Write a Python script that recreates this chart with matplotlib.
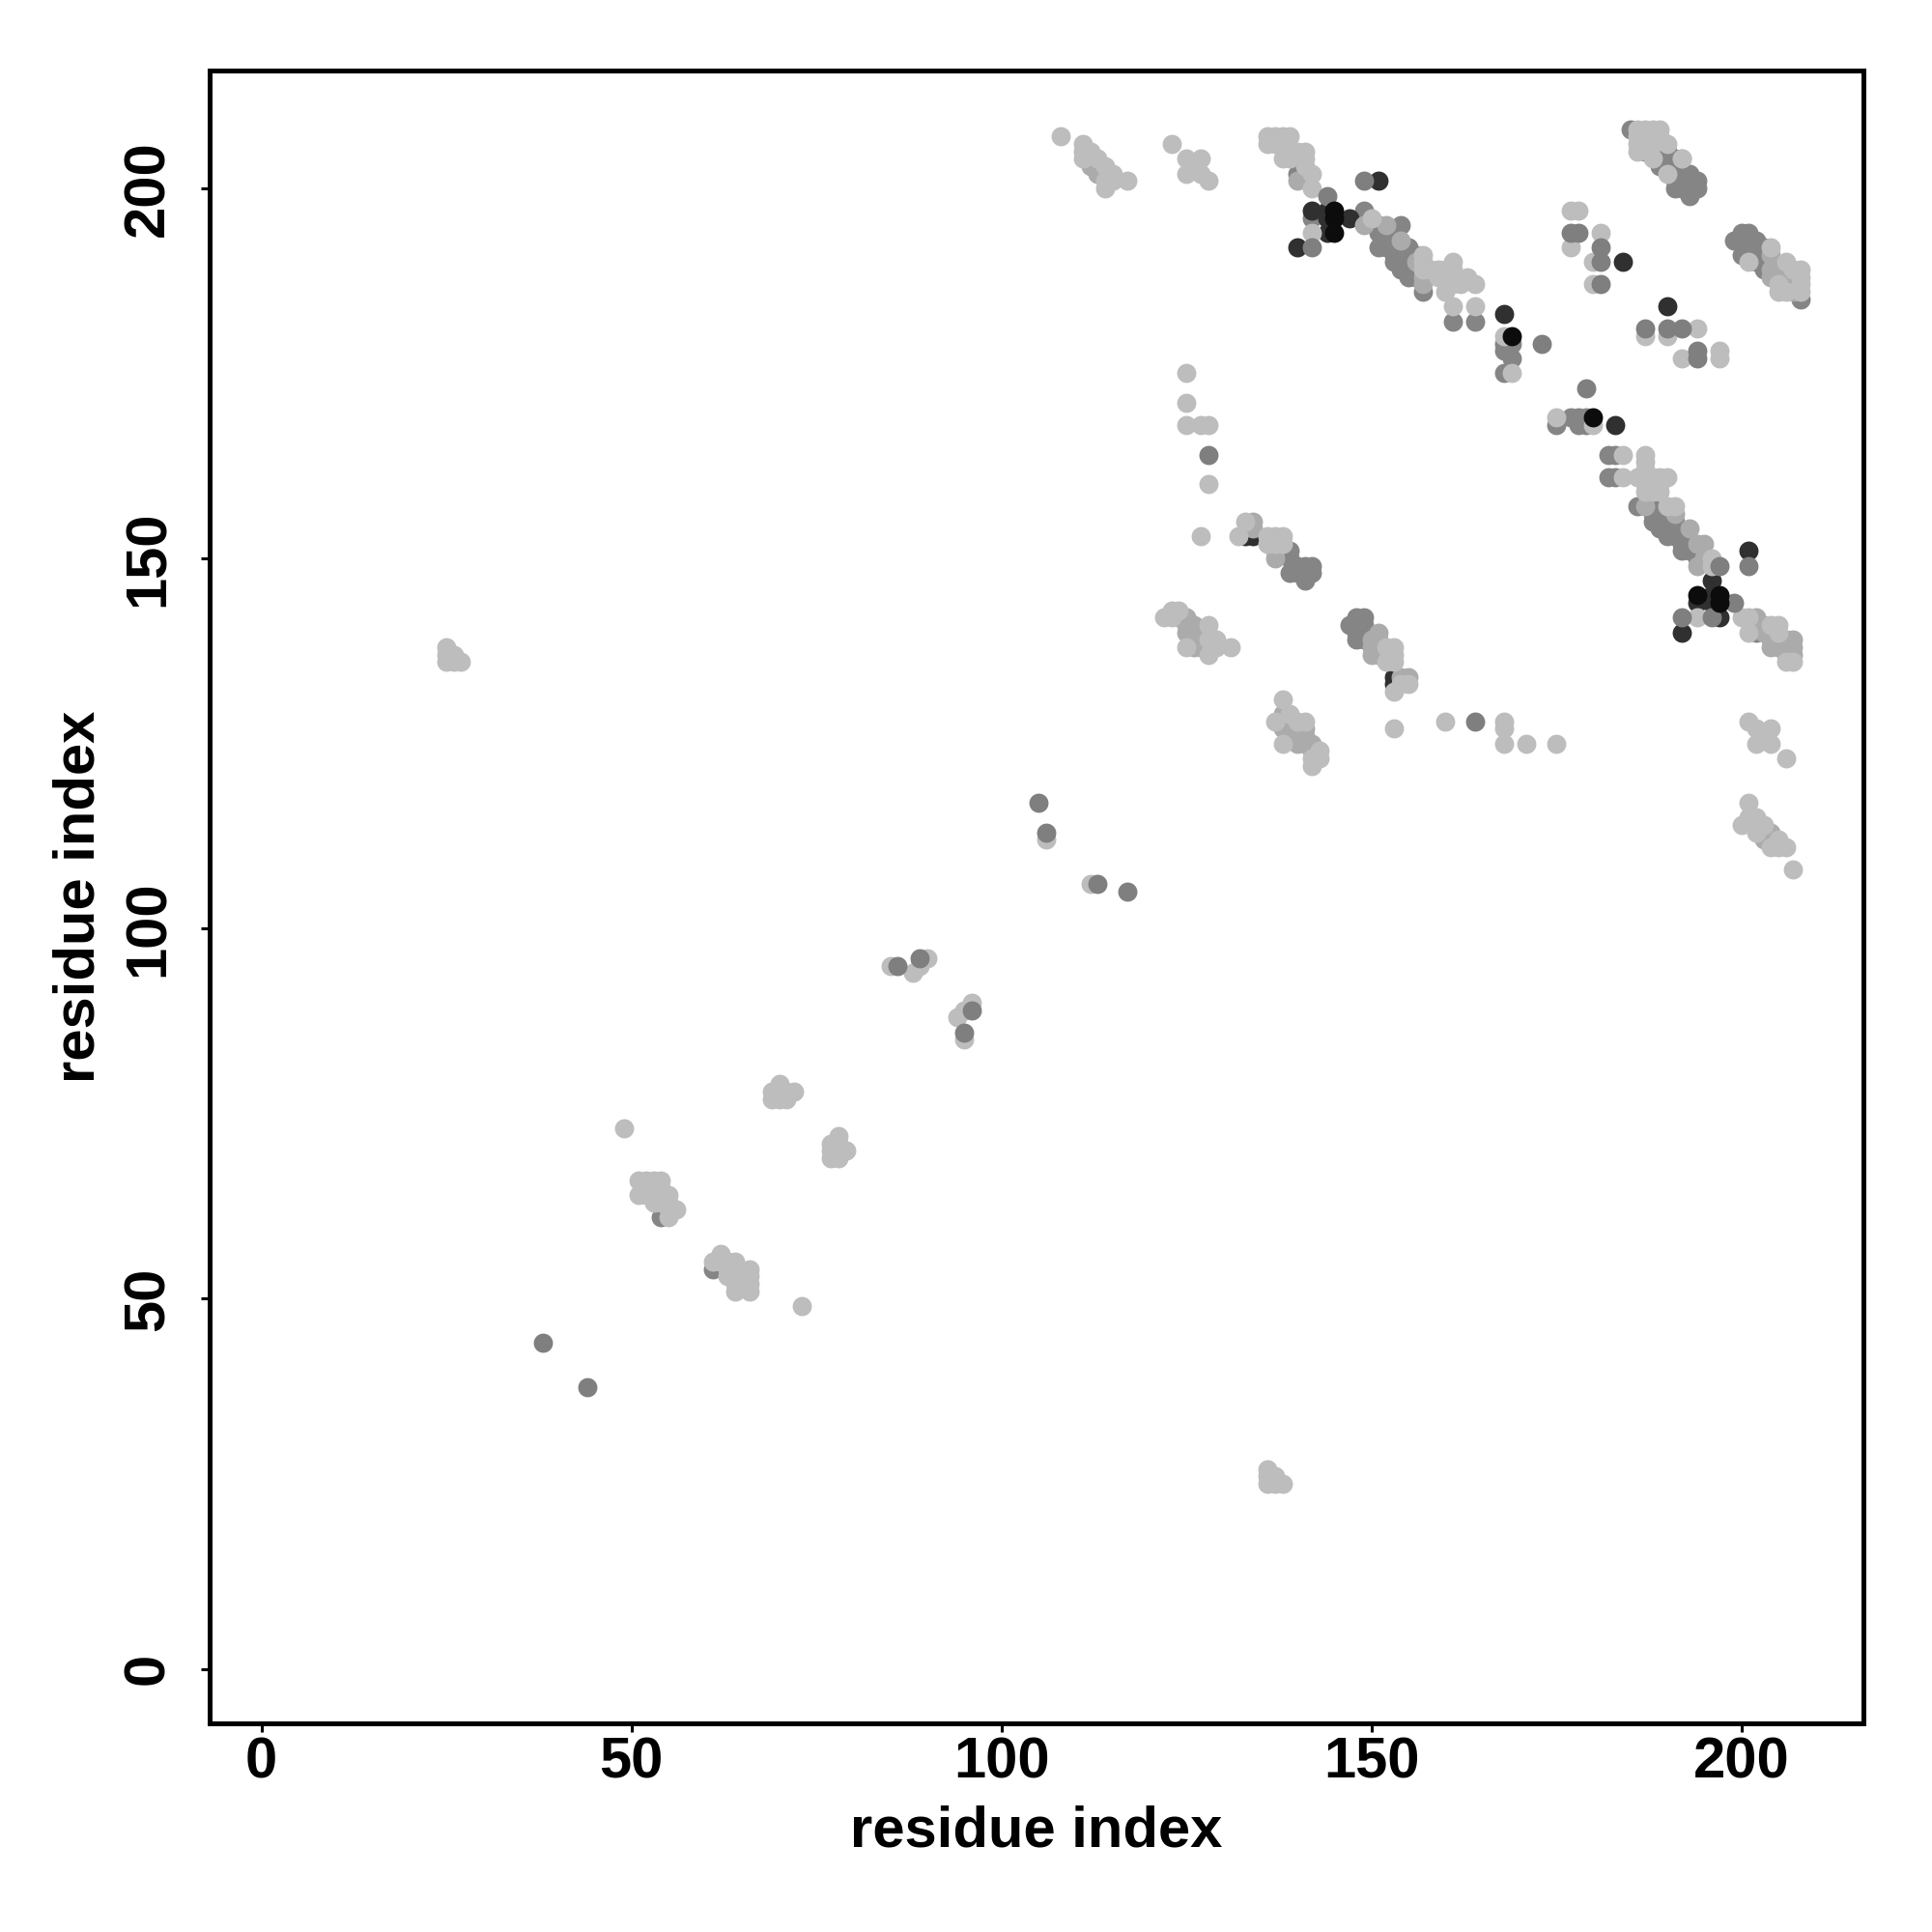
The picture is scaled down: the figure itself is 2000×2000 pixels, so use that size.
import numpy as np
import matplotlib
matplotlib.use('Agg')
import matplotlib.pyplot as plt

plt.rcParams['font.family'] = ['Liberation Sans', 'DejaVu Sans']
plt.rcParams['font.weight'] = 'bold'

# contacts (residue i, residue j) sorted by how grey they came out in the plot
mid_under = [(142,196),(140,202),(149,197),(151,195),(151,194),(151,192),(152,194),(152,193),(152,192),(153,193),
             (153,192),(153,191),(153,190),(154,192),(154,191),(154,190),(154,189),(155,191),(155,190),(155,189),
             (155,188),(156,188),(157,186),(161,182),(164,182),(168,179),(168,178),(169,179),(169,177),(168,175),
             (185,208),(187,205),(188,205),(189,205),(189,204),(189,203),(190,205),(190,204),(190,203),
             (191,204),(191,203),(191,201),(191,200),(192,202),(193,202),(192,201),(192,200),(193,201),(193,200),
             (193,199),(194,201),(194,200),(199,193),(200,194),(201,194),(200,193),(201,193),(202,193),(200,191),
             (201,192),(202,192),(201,191),(202,191),(202,190),(203,192),(203,191),(203,190),(203,189),(204,190),
             (208,185),(207,187),
             (139,151),(139,150),(139,148),(140,149),(140,148),(141,149),(141,148),(141,147),(142,149),(142,148),
             (147,141),(148,142),(149,142),(148,141),(148,140),(148,139),(149,141),(149,140),(149,139),
             (186,157),(188,157),(188,156),(188,155),(189,156),(189,155),(189,154),(190,155),(190,154),(190,153),
             (191,155),(191,154),(191,153),(192,153),(192,152),(192,151),(193,152),(193,151),(194,150),(194,151),
             (182,164),(183,164),(182,161),(183,161),(175,168),(177,169),(178,169),(178,168),(179,169),(179,168),
             (202,140),(61,54),(54,61),(154,195),(155,192),(156,191),(156,189)]
pale_mid = [(112,203),(113,202),(124,142),(125,142),(125,141),(126,141),(125,140),(126,140),(127,140),(126,139),
            (127,139),(126,138),(127,138),(137,151),(137,150),(134,154),(150,139),(150,138),(150,137),(151,140),
            (151,139),(151,138),(151,137),(152,137),(138,129),(138,128),(138,127),(139,128),(139,127),(139,126),
            (140,127),(140,126),(140,125),(141,127),(141,126),(141,125),(142,125),(142,124),(194,152),(195,152),
            (195,150),(194,149),(191,156),(193,154),(203,141),(202,142),(203,140),(204,139),(205,139),(205,138),
            (206,139),(204,138),(206,138),(206,137),(207,139),(207,138),(207,137),(157,188),(157,187),(156,190),
            (154,193),(152,195),(149,195),(204,191),(204,189),(204,188),(205,189),(205,188),(206,188),(206,187),
            (207,186),(140,201),(187,157),(204,113),(203,112),(192,204),(134,155),(154,134),(155,134)]
dark = [(142,197),(144,197),(147,196),(144,196),(140,192),(133,153),(134,153),(153,134),(153,133),(184,190),
        (190,184),(196,147),(194,144),(196,145),(196,144),(197,142),(192,140),(144,194),(151,201),(168,183),
        (183,168),(201,151)]
black = [(145,197),(145,196),(145,194),(169,180),(180,169),(194,145),(197,145),(197,144)]
top_mid = [(38,44),(44,38),(144,199),(149,201),(142,192),(164,128),(173,179),(179,173),(128,164),(117,105),
           (113,106),(106,113),(105,117),(86,95),(201,149),(199,144),(192,142),(196,142),(197,149),
           (177,194),(178,194),(181,192),(181,190),(181,187),(187,181),(190,181),(192,181),(194,178),(194,177),
           (89,96),(96,89),(95,86)]
light = [(108,207),(111,206),(111,205),(111,204),(112,205),(113,204),(114,203),(115,202),(114,201),(115,201),
         (114,200),(117,201),(123,206),(125,204),(127,204),(126,203),(125,202),(127,202),(128,201),
         (136,207),(136,206),(137,207),(138,207),(139,207),(137,206),(138,206),(138,204),(139,205),(139,204),
         (140,205),(141,205),(141,204),(141,203),(142,202),(142,200),(142,194),(150,196),(157,191),(157,190),
         (157,189),(158,189),(159,189),(160,189),(161,190),(161,189),(161,188),(161,187),(162,187),(164,187),
         (160,186),(159,188),(163,188),(161,184),(164,184),(168,180),(169,175),(177,197),(178,197),(177,192),
         (181,194),(180,190),(180,187),(175,169),(180,168),(187,180),(190,180),(194,181),(192,177),(197,178),
         (197,177),(186,208),(186,207),(186,206),(186,205),(187,208),(188,208),(189,208),(189,207),(190,206),
         (188,207),(187,207),(188,206),(188,204),(192,204),(190,202),(201,190),(204,192),(206,190),(205,186),
         (206,186),(207,189),(208,189),(208,188),(208,187),(208,186),(205,187),
         (128,160),(127,153),(132,153),(133,155),(136,153),(137,153),(138,153),(136,152),(138,152),(137,152),
         (122,142),(123,143),(124,143),(123,142),(125,138),(128,141),(128,139),(129,139),(129,138),(128,137),
         (131,138),(152,138),(153,138),(153,137),(152,136),(153,136),(153,132),(154,133),(155,133),
         (138,131),(137,128),(139,129),(140,128),(141,128),(138,125),(143,124),(143,123),(142,123),(142,122),
         (153,127),(160,128),(168,128),(168,127),(168,125),(171,125),(175,125),(201,128),(202,127),(204,127),
         (203,126),(202,125),(204,125),(206,123),(201,117),(200,114),(201,115),(202,115),(203,114),(202,113),
         (204,111),(205,111),(206,111),(205,112),(207,108),(184,164),(187,164),(184,161),(186,161),(187,163),
         (187,162),(187,160),(187,159),(188,161),(189,161),(190,161),(188,160),(189,160),(188,159),(189,159),
         (190,157),(191,157),(196,150),(196,149),(200,142),(201,142),(201,140),(204,141),(205,141),(205,140),
         (206,136),(207,136),(194,142),
         (136,27),(136,26),(137,26),(136,25),(137,25),(138,25),(25,138),(25,137),(26,137),(25,136),(26,136),(27,136),
         (73,49),(49,73),(51,66),(52,66),(53,66),(54,66),(52,65),(54,65),(51,64),(52,64),(53,64),(55,64),(53,63),
         (54,63),(55,63),(56,62),(55,61),(61,55),(62,56),(62,55),(63,55),(64,55),(63,54),(64,54),(63,53),(64,52),
         (64,51),(66,54),(66,53),(66,52),(66,51),(78,72),(77,71),(78,71),(77,70),(79,70),(77,69),(78,69),
         (70,79),(69,78),(70,78),(71,78),(72,78),(69,77),(70,77),(71,77),(85,95),(88,94),(89,95),(90,96),
         (94,88),(95,89),(96,90),(95,85),(106,112),(112,106),
         (125,175),(125,171),(125,168),(127,168),(128,168)]

groups = [(mid_under, '#858585'), (dark, '#303030'), (pale_mid, '#ababab'),
          (light, '#bdbdbd'), (top_mid, '#7f7f7f'), (black, '#0c0c0c')]

fig = plt.figure(figsize=(20, 20), dpi=100)
ax = fig.add_axes([217/2000, 1 - 1784/2000, 1712/2000, 1711/2000])

for pts, col in groups:
    pts = np.array(pts)
    ax.scatter(pts[:, 0], pts[:, 1], s=205, c=col, linewidths=0)

ax.set_xlim(-7, 216.5)
ax.set_ylim(-7.35, 215.9)
ax.set_xticks([0, 50, 100, 150, 200])
ax.set_yticks([0, 50, 100, 150, 200])
ax.tick_params(length=6.5, width=2.2, labelsize=43)
ax.tick_params(axis='x', pad=3)
ax.tick_params(axis='y', pad=19)
for lab in ax.get_yticklabels():
    lab.set_rotation(90)
    lab.set_va('center')
for sp in ax.spines.values():
    sp.set_linewidth(3.6)

ax.set_xlabel('residue index', fontsize=43, fontweight='bold', labelpad=12)
ax.set_ylabel('residue index', fontsize=43, fontweight='bold', labelpad=12)

fig.savefig('out.png', dpi=100)
